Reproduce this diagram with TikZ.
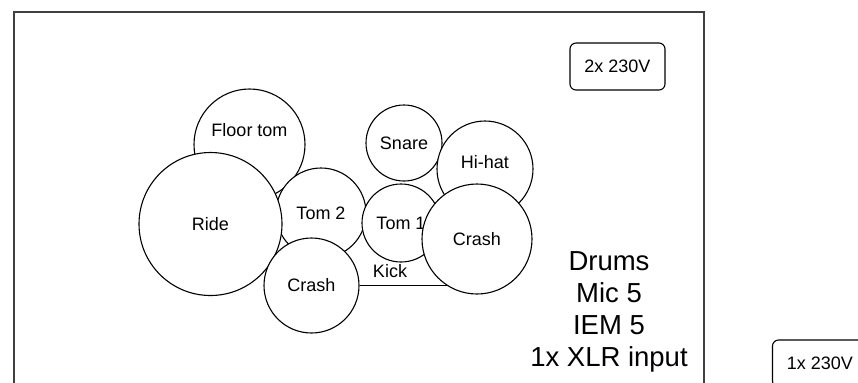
\documentclass[tikz,border=0pt]{standalone}
\usepackage{fontspec}
\setmainfont{Liberation Sans}
\usetikzlibrary{positioning,backgrounds}

\begin{document}
\begin{tikzpicture}[x=0.5pt,y=-0.5pt,line width=0.55pt,
    drum/.style={draw,circle,fill=white,inner sep=0pt,font=\fontsize{9}{11}\selectfont},
    power/.style={draw,rounded corners=3pt,minimum width=47.5pt,minimum height=23.5pt,font=\fontsize{9}{11}\selectfont},
    small/.style={font=\fontsize{9}{11}\selectfont}]
    \useasboundingbox (0,0) rectangle (858,382);
    \clip (0,0) rectangle (858,382);

    % stage area
    \draw[black!75] (14,12) rectangle (704,420);
    \node[power] (pwrA) at (617.5,66.5) {2x 230V};
    \node[power] (pwrB) at (820,363.5) {1x 230V};

    % drum kit
    \node[drum,minimum size=55.5pt,label={[small,yshift=7pt]center:Floor tom}] (floor) at (249.5,144.5) {};
    \node[drum,minimum size=45pt] (tomB) at (321,213) {Tom 2};
    \node[drum,minimum size=71.5pt] (ride) at (210.5,224) {Ride};
    \node[drum,minimum size=47.5pt] (crashL) at (311.5,285.5) {Crash};
    \node[drum,minimum size=38pt] (snare) at (404,143) {Snare};
    \node[drum,minimum size=39pt] (tomA) at (401,223) {Tom 1};
    \node[drum,minimum size=48pt,label={[small,yshift=3.5pt]center:Hi-hat}] (hihat) at (485,169) {};
    \node[drum,minimum size=55pt] (crashR) at (477,239) {Crash};

    \node[small] (kick) at (390,271) {Kick};
    \begin{pgfonlayer}{background}
    \draw (crashL.east) -- (crashL.east -| crashR.center);
    \end{pgfonlayer}

    \node[align=center,font=\fontsize{13.75}{16}\selectfont] (info) at (609,311.5) {Drums\\Mic 5\\IEM 5\\1x XLR input};
\end{tikzpicture}
\end{document}
